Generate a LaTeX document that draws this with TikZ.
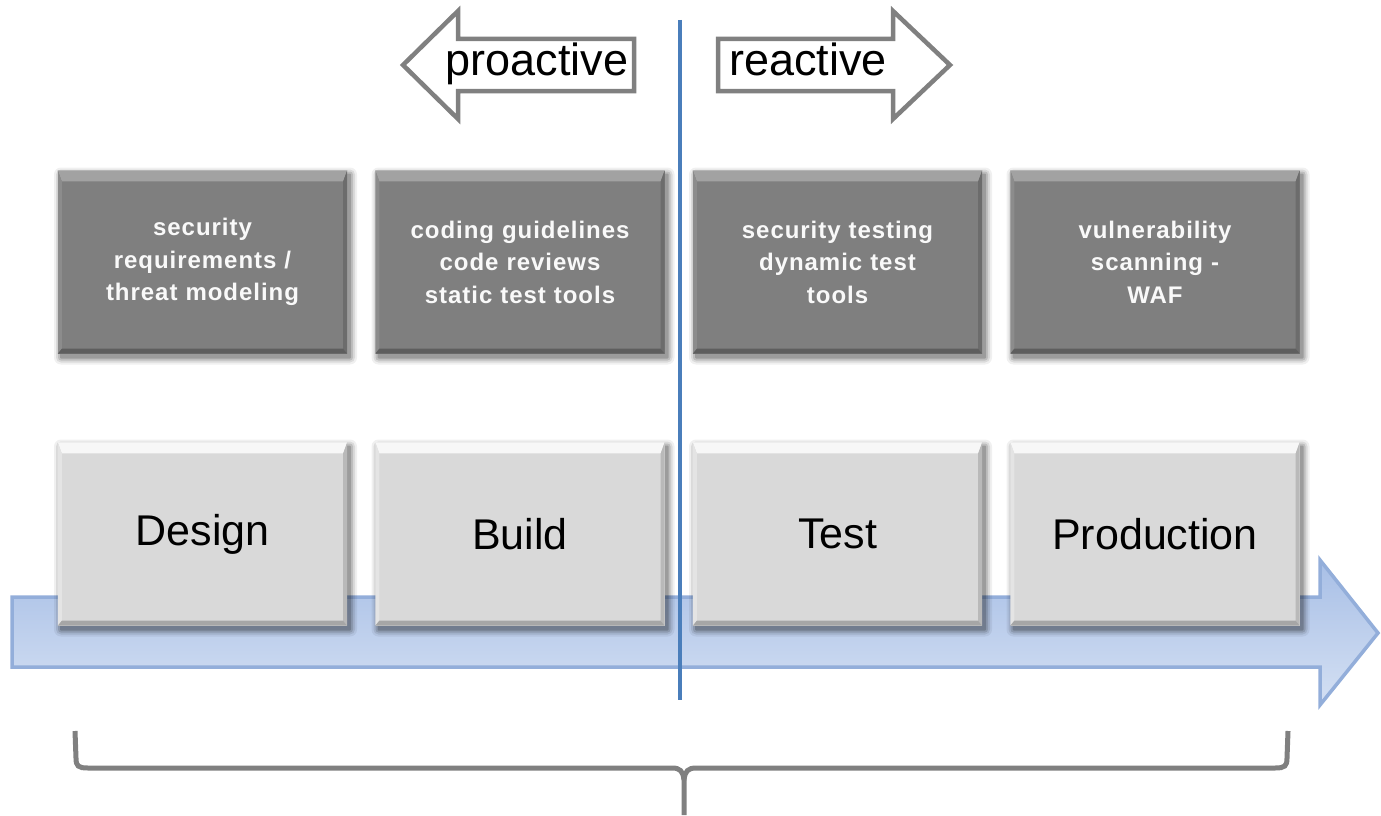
\documentclass[tikz,border=0pt]{standalone}
\usepackage{fontspec}
\setmainfont{Liberation Sans}
\newfontfamily\spacedbold[LetterSpace=4]{Liberation Sans}
\usetikzlibrary{calc}

\definecolor{darkface}{HTML}{7F7F7F}
\definecolor{darktop}{HTML}{A2A2A2}
\definecolor{darkleft}{HTML}{8C8C8C}
\definecolor{darkright}{HTML}{6C6C6C}
\definecolor{darkbottom}{HTML}{5E5E5E}
\definecolor{lightface}{HTML}{D9D9D9}
\definecolor{lighttop}{HTML}{F7F7F7}
\definecolor{lightleft}{HTML}{E4E4E4}
\definecolor{lightright}{HTML}{B9B9B9}
\definecolor{lightbottom}{HTML}{A6A6A6}
\definecolor{linegray}{HTML}{808080}
\definecolor{divider}{HTML}{4A7EBB}
\definecolor{flowtop}{HTML}{A8BFE6}
\definecolor{flowbottom}{HTML}{D4E0F3}
\definecolor{flowborder}{HTML}{93AEDA}

\tikzset{
  boxbase/.style={rectangle, inner sep=0pt, minimum width=289pt, minimum height=183pt,
    align=center, text width=280pt},
  toolbox/.style={boxbase, fill=darkface, text=white!95!gray,
    font=\spacedbold\fontsize{24}{32.5}\selectfont\bfseries},
  phasebox/.style={boxbase, fill=lightface, text=black,
    font=\fontsize{43}{50}\selectfont},
  hintarrow/.style={draw=linegray, line width=4.5pt, fill=white, line join=miter},
  hinttext/.style={font=\fontsize{45}{52}\selectfont, inner sep=0pt, anchor=base}
}

% bevelled box: name, centre x, centre y, face style, facet colour prefix, text
\newcommand\bevelbox[6]{%
  \begin{scope}[shift={(#2,#3)}]
    \foreach \s/\o in {7/0.06,5/0.09,3/0.13,1/0.18}{
      \fill[black, opacity=\o, rounded corners=\s pt]
        (-144.5-\s+3,-91.5-\s+4) rectangle (144.5+\s+3,91.5+\s+4);}
    \node[#4] (#1) at (0,0) {#6};
    \fill[#5top] (#1.north west) -- (#1.north east) -- ++(-4,11)
      -- ($(#1.north west)+(4,11)$) -- cycle;
    \fill[#5left] (#1.north west) -- ($(#1.north west)+(4,11)$)
      -- ($(#1.south west)+(4,-5)$) -- (#1.south west) -- cycle;
    \fill[#5right] (#1.north east) -- ($(#1.north east)+(-4,11)$)
      -- ($(#1.south east)+(-4,-5)$) -- (#1.south east) -- cycle;
    \fill[#5bottom] (#1.south west) -- ($(#1.south west)+(4,-5)$)
      -- ($(#1.south east)+(-4,-5)$) -- (#1.south east) -- cycle;
  \end{scope}%
}

\begin{document}
\begin{tikzpicture}[x=1pt, y=-1pt]
  \useasboundingbox (0,0) rectangle (1381,816);

  % timeline arrow
  \coordinate (flowtip) at (1378,633);
  \path[top color=flowtop, bottom color=flowbottom, draw=flowborder, line width=3.5pt]
    (12,597) -- (1320,597) -- (1320,560) -- (flowtip) -- (1320,705)
    -- (1320,667) -- (12,667) -- cycle;

  % activities per phase
  \bevelbox{req}{202.5}{262}{toolbox}{dark}{security\\requirements /\\threat modeling}
  \bevelbox{code}{520}{262}{toolbox}{dark}{coding guidelines\\code reviews\\static test tools}
  \bevelbox{sectest}{837.5}{262}{toolbox}{dark}{security testing\\dynamic test\\tools}
  \bevelbox{vuln}{1155}{262}{toolbox}{dark}{vulnerability\\scanning -\\WAF}

  % phases
  \bevelbox{design}{202.5}{534}{phasebox}{light}{Design}
  \bevelbox{build}{520}{534}{phasebox}{light}{Build}
  \bevelbox{test}{837.5}{534}{phasebox}{light}{Test}
  \bevelbox{prod}{1155}{534}{phasebox}{light}{Production}

  % proactive / reactive split
  \coordinate (splittop) at (680,20);
  \coordinate (splitbot) at (680,700);
  \draw[divider, line width=4pt] (splittop) -- (splitbot);

  \draw[hintarrow] (403,65) -- (458,11) -- (458,39) -- (634,39) -- (634,91)
    -- (458,91) -- (458,119) -- cycle;
  \node[hinttext] (pro) at (537,75) {proactive};
  \draw[hintarrow] (950,65) -- (893,11) -- (893,39) -- (718,39) -- (718,91)
    -- (893,91) -- (893,119) -- cycle;
  \node[hinttext] (re) at (808,75) {reactive};

  % brace under the whole cycle
  \draw[linegray, line width=5pt, line cap=butt]
    (75,731) -- (76,758) .. controls (76,766) and (78,768) .. (88,768)
    -- (672,768) .. controls (680,768) and (683,771) .. (684,780) -- (684,815);
  \draw[linegray, line width=5pt, line cap=butt]
    (1288,731) -- (1287,758) .. controls (1287,766) and (1285,768) .. (1275,768)
    -- (696,768) .. controls (688,768) and (685,771) .. (684,780);
\end{tikzpicture}
\end{document}
